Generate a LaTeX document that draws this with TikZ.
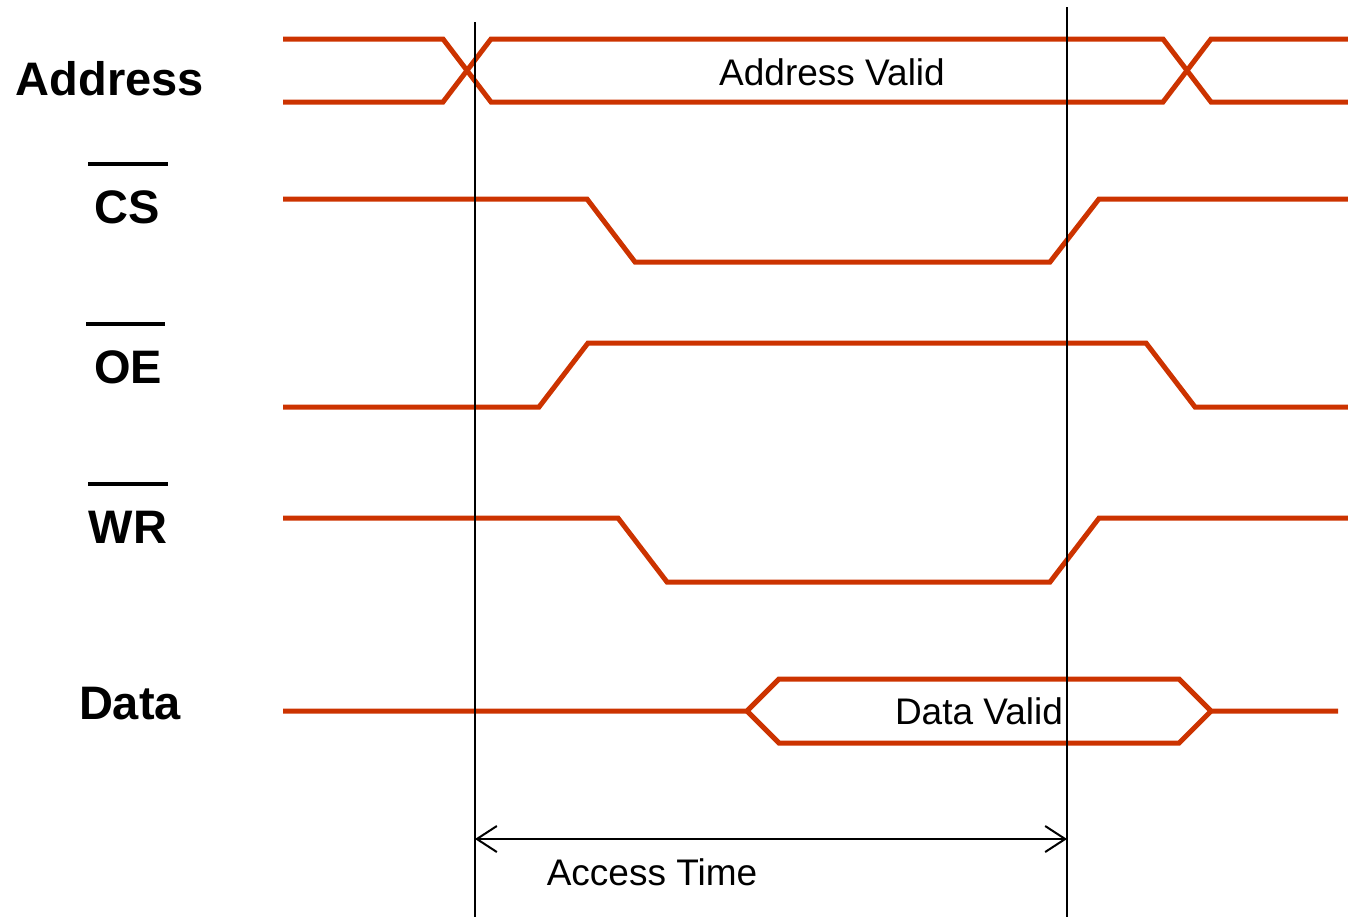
\documentclass[tikz,border=0pt]{standalone}
\usepackage{fontspec}
\setmainfont{Liberation Sans}
\usetikzlibrary{arrows.meta}
\definecolor{sigred}{RGB}{204,51,0}
\tikzset{
  sig/.style={draw=sigred,line width=2.5pt,line join=miter},
  marker/.style={draw=black,line width=1pt},
  lbl/.style={font=\fontsize{23.5}{26}\selectfont\bfseries,inner sep=0pt},
  txt/.style={font=\fontsize{18.5}{21}\selectfont,inner sep=0pt},
  bar/.style={draw=black,line width=2pt}
}
\begin{document}
\begin{tikzpicture}[x=0.5pt,y=-0.5pt]
\useasboundingbox (0,0) rectangle (1348,917);
% labels
\node[lbl] (laddr) at (110,79) {Address};
\node[lbl] (lcs) at (127,207) {CS};
\node[lbl] (loe) at (128,367) {OE};
\node[lbl] (lwr) at (128,527) {WR};
\node[lbl] (ldata) at (130,704) {Data};
\draw[bar] (88,164) -- (168,164);
\draw[bar] (86,324) -- (165,324);
\draw[bar] (88,484) -- (168,484);
% Address
\draw[sig] (283,39) -- (443,39) -- (491,102) -- (1163,102) -- (1211,39) -- (1348,39);
\draw[sig] (283,102) -- (443,102) -- (491,39) -- (1163,39) -- (1211,102) -- (1348,102);
\node[txt] (av) at (832,72) {Address Valid};
% CS
\draw[sig] (283,199) -- (587,199) -- (635,262) -- (1050,262) -- (1099,199) -- (1348,199);
% OE
\draw[sig] (283,407) -- (539,407) -- (588,343) -- (1146,343) -- (1195,407) -- (1348,407);
% WR
\draw[sig] (283,518) -- (618,518) -- (667,582) -- (1050,582) -- (1099,518) -- (1348,518);
% Data
\draw[sig] (283,711) -- (747,711) -- (779,679) -- (1179,679) -- (1211,711) -- (1338,711);
\draw[sig] (747,711) -- (779,743) -- (1179,743) -- (1211,711);
\node[txt] (dv) at (979,711) {Data Valid};
% markers
\coordinate (m1t) at (475,22);
\coordinate (m1b) at (475,917);
\coordinate (m2t) at (1067,7);
\coordinate (m2b) at (1067,917);
\draw[marker] (m1t) -- (m1b);
\draw[marker] (m2t) -- (m2b);
\coordinate (a1) at (475,839);
\coordinate (a2) at (1067,839);
\draw[line width=1pt,{Straight Barb[length=10pt,width=13pt]}-{Straight Barb[length=10pt,width=13pt]}] (a1) -- (a2);
\node[txt] (at) at (652,872) {Access Time};
\end{tikzpicture}
\end{document}
